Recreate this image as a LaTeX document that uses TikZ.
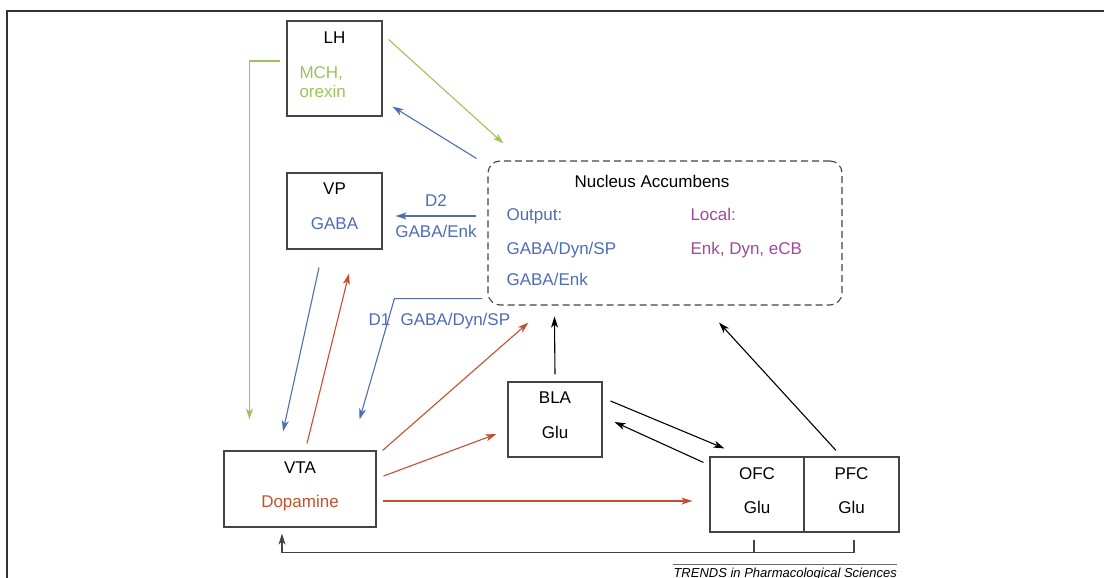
\documentclass[tikz,border=0pt]{standalone}
\usepackage{fontspec}
\setmainfont{Liberation Sans}
\usetikzlibrary{arrows.meta}
\definecolor{mchgreen}{HTML}{9DC25A}
\definecolor{gabablue}{HTML}{4F6DB4}
\definecolor{dared}{HTML}{C4502B}
\definecolor{localpurple}{HTML}{A1479B}
\definecolor{boxgray}{HTML}{444444}
\tikzset{region/.style={draw=boxgray,line width=1.1pt,inner sep=0pt}}
\tikzset{proj/.style={line width=1.1pt,-{Stealth[length=11pt,width=7pt,inset=3pt]}}}

\begin{document}
\begin{tikzpicture}[x=1pt,y=-1pt,font=\fontsize{17}{20}\selectfont]
\useasboundingbox (0,0) rectangle (1104,578);
% \draw[help lines] (0,0) grid (1104,578);
\draw[line width=1.6pt,black!80] (7,578) -- (7,11) -- (1104,11);
%
\node (lh) [region,minimum width=95pt,minimum height=95pt] at (334.5,68.5) {};
\node (vp) [region,minimum width=95pt,minimum height=76pt] at (334.5,211) {};
\node (nac) [region,dash pattern=on 7pt off 4pt,rounded corners=12pt,minimum width=354pt,minimum height=144pt] at (665,233) {};
\node (vta) [region,minimum width=152pt,minimum height=76pt] at (300,489) {};
\node (bla) [region,minimum width=94pt,minimum height=75pt] at (555,419.5) {};
\node (ofc) [region,minimum width=94pt,minimum height=75pt] at (757,494.5) {};
\node (pfc) [region,minimum width=95pt,minimum height=75pt] at (851.5,494.5) {};
%
\node (lh-name) [anchor=base] at (334.5,44) {LH};
\node (lh-mch) [anchor=base west,text=mchgreen] at (296,78) {MCH,};
\node (lh-orx) [anchor=base west,text=mchgreen] at (296,98) {orexin};
\node (vp-name) [anchor=base] at (334.5,194) {VP};
\node (vp-nt) [anchor=base,text=gabablue] at (334.5,229) {GABA};
\node (nac-name) [anchor=base] at (652,187) {Nucleus Accumbens};
\node (nac-out) [anchor=base west,text=gabablue] at (503,220) {Output:};
\node (nac-loc) [anchor=base west,text=localpurple] at (687,220) {Local:};
\node (nac-d1) [anchor=base west,text=gabablue] at (503,254) {GABA/Dyn/SP};
\node (nac-pep) [anchor=base west,text=localpurple] at (687,254) {Enk, Dyn, eCB};
\node (nac-d2) [anchor=base west,text=gabablue] at (503,285) {GABA/Enk};
\node (vta-name) [anchor=base] at (300,473) {VTA};
\node (vta-nt) [anchor=base,text=dared] at (300,507) {Dopamine};
\node (bla-name) [anchor=base] at (555,403) {BLA};
\node (bla-nt) [anchor=base] at (555,438) {Glu};
\node (ofc-name) [anchor=base] at (757,479) {OFC};
\node (ofc-nt) [anchor=base] at (757,513) {Glu};
\node (pfc-name) [anchor=base] at (851.5,479) {PFC};
\node (pfc-nt) [anchor=base] at (851.5,513) {Glu};
\node (d1-rec) [anchor=base west,text=gabablue] at (365,325) {D1};
\node (d1-nt) [anchor=base west,text=gabablue] at (397,325) {GABA/Dyn/SP};
%
\path[proj,mchgreen]([xshift=6pt,yshift=-19pt]lh.north east) edge ([xshift=16pt,yshift=17pt]nac.north west);
\path[proj,gabablue]([xshift=-11pt,yshift=2pt]nac.north west) edge ([xshift=10pt,yshift=10pt]lh.south east);
\path[proj,gabablue]([xshift=-11pt,yshift=17pt]nac.west) edge node[above=5.5pt] {D2} node[below=5.5pt] {GABA/Enk} ([xshift=13pt,yshift=-5pt]vp.east);
\draw[proj,mchgreen]([xshift=-6pt,yshift=7.5pt]lh.west) -| ([xshift=26pt,yshift=31pt]vta.north west);
\path[proj,gabablue]([xshift=-15.5pt,yshift=-18pt]vp.south) edge ([xshift=-17pt,yshift=19pt]vta.north);
\path[proj,dared]([xshift=7pt,yshift=7pt]vta.north) edge ([xshift=14.5pt,yshift=-24pt]vp.south);
\draw[proj,gabablue]([xshift=-5pt,yshift=7pt]nac.south west) -- ++(-88,0) -- ([xshift=-17pt,yshift=31pt]vta.north east);
\path[proj,dared]([xshift=6pt]vta.north east) edge ([xshift=41pt,yshift=-17pt]nac.south west);
\path[proj,dared]([xshift=7pt,yshift=13pt]vta.east) edge ([xshift=-11pt,yshift=-14.5pt]bla.west);
\path[proj,dared]([xshift=6pt,yshift=-12pt]vta.east) edge ([xshift=-17pt,yshift=-6.5pt]ofc.west);
\path[proj,black]([yshift=7pt]bla.north) edge ([xshift=67pt,yshift=-11pt]nac.south west);
\path[proj,black]([xshift=8pt,yshift=18.5pt]bla.east) edge ([xshift=15pt,yshift=8pt]ofc.north west);
\path[proj,black]([xshift=-6pt,yshift=-6pt]ofc.north west) edge ([xshift=12pt,yshift=-2.5pt]bla.east);
\path[proj,black]([xshift=-15.5pt,yshift=6pt]pfc.north) edge ([xshift=54pt,yshift=-17pt]nac.south);
\draw[proj,boxgray]([xshift=2.5pt,yshift=-7pt]pfc.south) -- ++(0,13) -| ([xshift=-18pt,yshift=-6pt]vta.south);
\draw[line width=1.1pt,boxgray]([xshift=-3pt,yshift=-7pt]ofc.south) -- ++(0,13);
%
\node (trends) [anchor=base east,inner sep=0pt,font=\fontsize{13}{15}\selectfont\itshape] at (897,577) {TRENDS in Pharmacological Sciences};
\draw[line width=0.6pt,black!60]([yshift=3.5pt]trends.north west) -- ([yshift=3.5pt]trends.north east);
\end{tikzpicture}
\end{document}
